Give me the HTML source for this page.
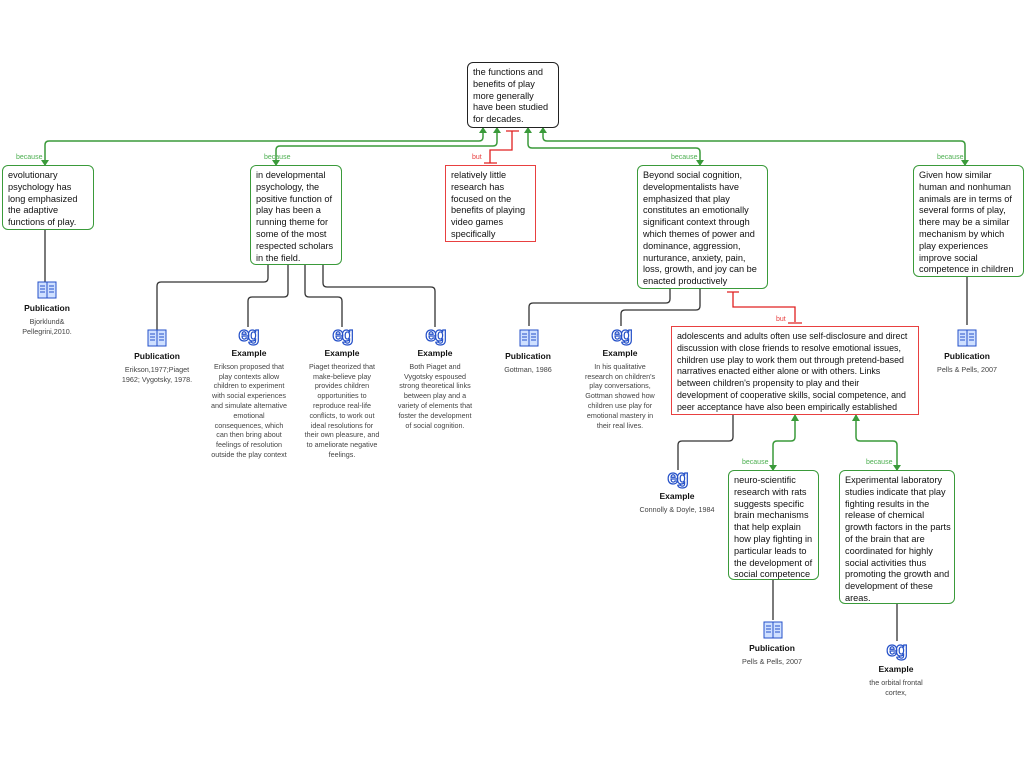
<!DOCTYPE html>
<html><head><meta charset="utf-8"><style>
body{margin:0;background:#fff;width:1024px;height:768px;position:relative;overflow:hidden;font-family:"Liberation Sans",sans-serif}
.b{position:absolute;box-sizing:border-box;border:1.5px solid #3a9a3a;border-radius:6px;background:#fff;font-size:9.2px;line-height:11.8px;color:#111;padding:4px 4px 4px 5px;white-space:nowrap}
.r{border:1.5px solid #e84040;border-radius:0}
.k{border-color:#222}
.l{position:absolute;font-size:7px;color:#4caf50}
.lr{color:#e84040}
.t{position:absolute;text-align:center;font-size:7.2px;line-height:9.8px;color:#444;transform:translateX(-50%);white-space:nowrap}
.t b{display:block;font-size:8.5px;color:#111;margin-bottom:3px}
.eg{position:absolute;transform:translateX(-50%);font-size:20px;font-weight:bold;color:#fff;-webkit-text-stroke:1.2px #2450c8;letter-spacing:-2px;line-height:20px}
</style></head><body>
<svg width="1024" height="768" style="position:absolute;left:0;top:0" fill="none">
<defs>
<g id="bk" stroke="#2450c8" stroke-width="1" fill="#cfe0ff">
<rect x="-9" y="-8" width="18" height="16"/><path d="M0 -8V8M-7 -4H-2M-7 -1H-2M-7 2H-2M2 -4H7M2 -1H7M2 2H7"/>
</g>
</defs>
<g stroke="#3a9a3a" stroke-width="1.5">
<path d="M483 128V137Q483 141 479 141H49Q45 141 45 145V165"/>
<path d="M497 128V142Q497 146 493 146H280Q276 146 276 150V165"/>
<path d="M528 128V144Q528 148 532 148H696Q700 148 700 152V165"/>
<path d="M543 128V137Q543 141 547 141H961Q965 141 965 145V165"/>
<path d="M795 415V437Q795 441 791 441H777Q773 441 773 445V470"/>
<path d="M856 415V437Q856 441 860 441H893Q897 441 897 445V470"/>
</g>
<g fill="#3a9a3a">
<path d="M479 133L483 127L487 133Z"/><path d="M493 133L497 127L501 133Z"/><path d="M524 133L528 127L532 133Z"/><path d="M539 133L543 127L547 133Z"/>
<path d="M41 160L45 166L49 160Z"/><path d="M272 160L276 166L280 160Z"/><path d="M696 160L700 166L704 160Z"/><path d="M961 160L965 166L969 160Z"/>
<path d="M791 421L795 414L799 421Z"/><path d="M852 421L856 414L860 421Z"/><path d="M769 465L773 471L777 465Z"/><path d="M893 465L897 471L901 465Z"/>
</g>
<g stroke="#e02020" stroke-width="1.3">
<path d="M506 131H519M512 131V150H490V163M484 163H497"/>
<path d="M727 292H739M733 292V307H795V322M788 323H802"/>
</g>
<g stroke="#333" stroke-width="1.3">
<path d="M45 230V285"/>
<path d="M268 265V278Q268 282 264 282H161Q157 282 157 286V330"/>
<path d="M288 265V293Q288 297 284 297H252Q248 297 248 301V327"/>
<path d="M305 265V293Q305 297 309 297H338Q342 297 342 301V327"/>
<path d="M323 265V283Q323 287 327 287H431Q435 287 435 291V327"/>
<path d="M670 289V299Q670 303 666 303H533Q529 303 529 307V326"/>
<path d="M700 289V306Q700 310 696 310H625Q621 310 621 314V326"/>
<path d="M967 277V325"/>
<path d="M733 415V437Q733 441 729 441H682Q678 441 678 445V470"/>
<path d="M773 580V620"/>
<path d="M897 604V641"/>
</g>
<use href="#bk" x="47" y="290"/><use href="#bk" x="157" y="338"/><use href="#bk" x="529" y="338"/><use href="#bk" x="967" y="338"/><use href="#bk" x="773" y="630"/>
</svg>
<div class="b k" style="left:467px;top:62px;width:92px;height:66px">the functions and<br>benefits of play<br>more generally<br>have been studied<br>for decades.</div>
<div class="b" style="left:2px;top:165px;width:92px;height:65px">evolutionary<br>psychology has<br>long emphasized<br>the adaptive<br>functions of play.</div>
<div class="b" style="left:250px;top:165px;width:92px;height:100px">in developmental<br>psychology, the<br>positive function of<br>play has been a<br>running theme for<br>some of the most<br>respected scholars<br>in the field.</div>
<div class="b r" style="left:445px;top:165px;width:91px;height:77px">relatively little<br>research has<br>focused on the<br>benefits of playing<br>video games<br>specifically</div>
<div class="b" style="left:637px;top:165px;width:131px;height:124px">Beyond social cognition,<br>developmentalists have<br>emphasized that play<br>constitutes an emotionally<br>significant context through<br>which themes of power and<br>dominance, aggression,<br>nurturance, anxiety, pain,<br>loss, growth, and joy can be<br>enacted productively</div>
<div class="b" style="left:913px;top:165px;width:111px;height:112px">Given how similar<br>human and nonhuman<br>animals are in terms of<br>several forms of play,<br>there may be a similar<br>mechanism by which<br>play experiences<br>improve social<br>competence in children</div>
<div class="b r" style="left:671px;top:326px;width:248px;height:89px;font-size:8.9px">adolescents and adults often use self-disclosure and direct<br>discussion with close friends to resolve emotional issues,<br>children use play to work them out through pretend-based<br>narratives enacted either alone or with others. Links<br>between children's propensity to play and their<br>development of cooperative skills, social competence, and<br>peer acceptance have also been empirically established</div>
<div class="b" style="left:728px;top:470px;width:91px;height:110px">neuro-scientific<br>research with rats<br>suggests specific<br>brain mechanisms<br>that help explain<br>how play fighting in<br>particular leads to<br>the development of<br>social competence</div>
<div class="b" style="left:839px;top:470px;width:116px;height:134px">Experimental laboratory<br>studies indicate that play<br>fighting results in the<br>release of chemical<br>growth factors in the parts<br>of the brain that are<br>coordinated for highly<br>social activities thus<br>promoting the growth and<br>development of these<br>areas.</div>
<div class="l" style="left:16px;top:154px">because</div>
<div class="l" style="left:264px;top:154px">because</div>
<div class="l lr" style="left:472px;top:154px">but</div>
<div class="l" style="left:671px;top:154px">because</div>
<div class="l" style="left:937px;top:154px">because</div>
<div class="l lr" style="left:776px;top:316px">but</div>
<div class="l" style="left:742px;top:459px">because</div>
<div class="l" style="left:866px;top:459px">because</div>
<div class="t" style="left:47px;top:304px"><b>Publication</b>Bjorklund&amp;<br>Pellegrini,2010.</div>
<div class="eg" style="left:248px;top:325px">eg</div><div class="eg" style="left:342px;top:325px">eg</div><div class="eg" style="left:435px;top:325px">eg</div><div class="eg" style="left:621px;top:325px">eg</div><div class="eg" style="left:677px;top:468px">eg</div><div class="eg" style="left:896px;top:640px">eg</div>
<div class="t" style="left:157px;top:352px"><b>Publication</b>Erikson,1977;Piaget<br>1962; Vygotsky, 1978.</div>
<div class="t" style="left:249px;top:349px"><b>Example</b>Erikson proposed that<br>play contexts allow<br>children to experiment<br>with social experiences<br>and simulate alternative<br>emotional<br>consequences, which<br>can then bring about<br>feelings of resolution<br>outside the play context</div>
<div class="t" style="left:342px;top:349px"><b>Example</b>Piaget theorized that<br>make-believe play<br>provides children<br>opportunities to<br>reproduce real-life<br>conflicts, to work out<br>ideal resolutions for<br>their own pleasure, and<br>to ameliorate negative<br>feelings.</div>
<div class="t" style="left:435px;top:349px"><b>Example</b>Both Piaget and<br>Vygotsky espoused<br>strong theoretical links<br>between play and a<br>variety of elements that<br>foster the development<br>of social cognition.</div>
<div class="t" style="left:528px;top:352px"><b>Publication</b>Gottman, 1986</div>
<div class="t" style="left:620px;top:349px"><b>Example</b>In his qualitative<br>research on children's<br>play conversations,<br>Gottman showed how<br>children use play for<br>emotional mastery in<br>their real lives.</div>
<div class="t" style="left:967px;top:352px"><b>Publication</b>Pells &amp; Pells, 2007</div>
<div class="t" style="left:677px;top:492px"><b>Example</b>Connolly &amp; Doyle, 1984</div>
<div class="t" style="left:772px;top:644px"><b>Publication</b>Pells &amp; Pells, 2007</div>
<div class="t" style="left:896px;top:665px"><b>Example</b>the orbital frontal<br>cortex,</div>
</body></html>
